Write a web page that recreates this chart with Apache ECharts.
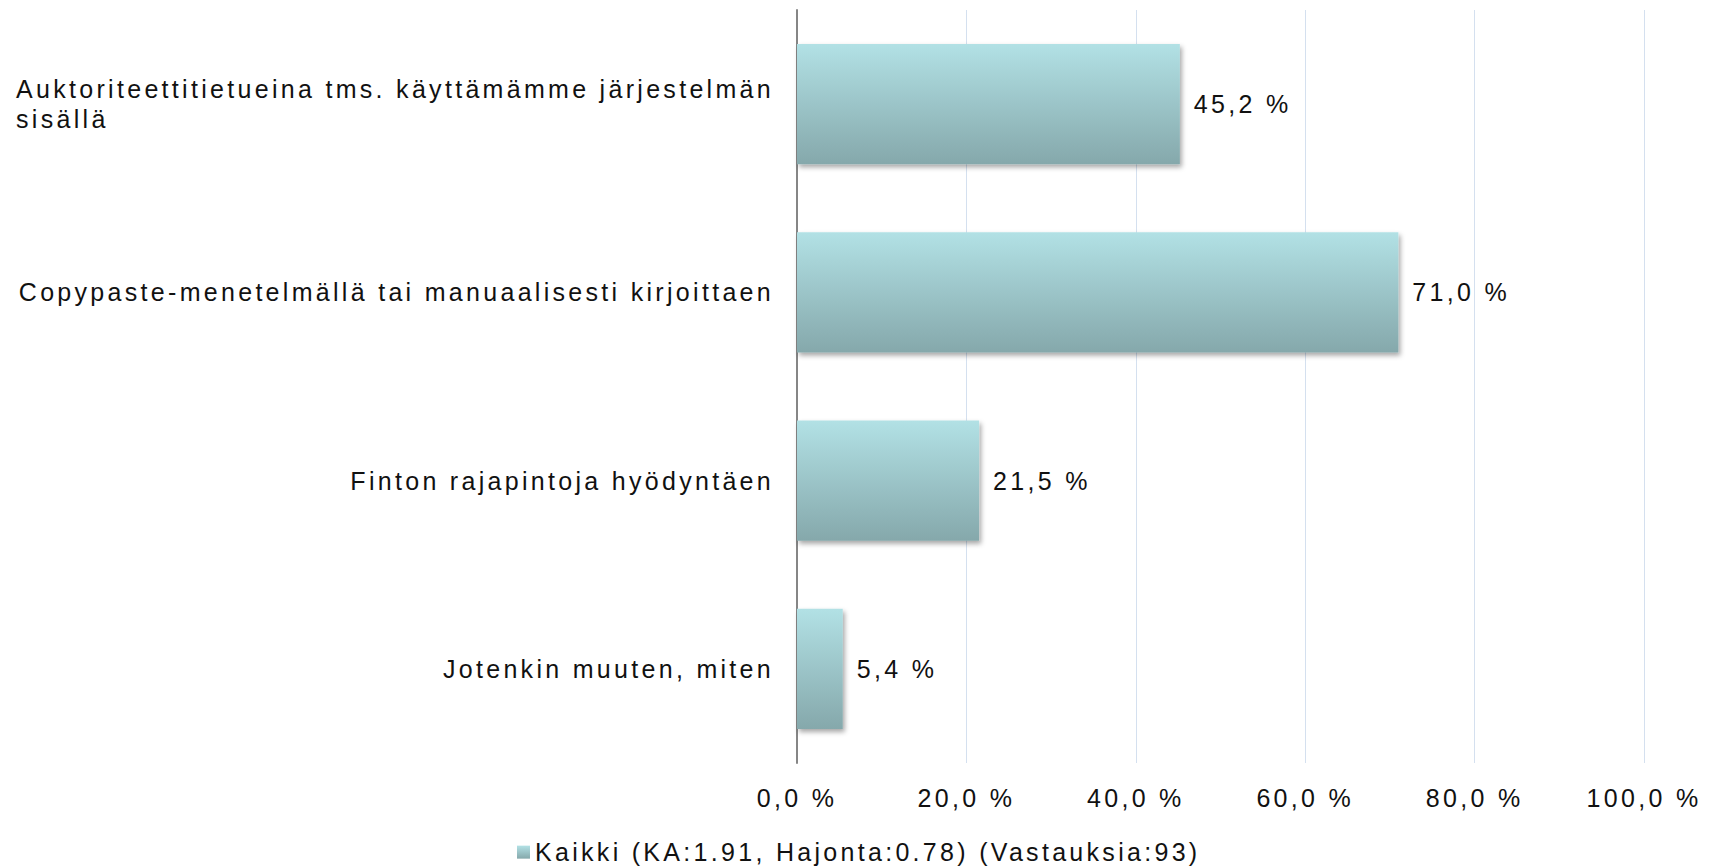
<!DOCTYPE html>
<html>
<head>
<meta charset="utf-8">
<script src="https://cdn.jsdelivr.net/npm/echarts@6/dist/echarts.min.js"></script>
<style>
html,body{margin:0;padding:0;background:#fff;}
#chart{width:1715px;height:866px;}
#chart text{letter-spacing:3.3px;}
</style>
</head>
<body>
<div id="chart"></div>
<script>
var categories = [
	'Auktoriteettitietueina tms. käyttämämme järjestelmän sisällä',
	'Copypaste-menetelmällä tai manuaalisesti kirjoittaen',
	'Finton rajapintoja hyödyntäen',
	'Jotenkin muuten, miten'
];
var values = [45.2, 71.0, 21.5, 5.4];
var xTicks = [0, 20, 40, 60, 80, 100];
var seriesName = 'Kaikki (KA:1.91, Hajonta:0.78) (Vastauksia:93)';

// the original text is widely spaced; make echarts measure it the same way
var SPACING = 3.3;
var measureCtx = document.createElement('canvas').getContext('2d');
echarts.setPlatformAPI({
	measureText: function(text, font){
		measureCtx.font = font || '12px sans-serif';
		var m = measureCtx.measureText(text);
		return {
			width: m.width + SPACING * Array.from(text).length,
			actualBoundingBoxAscent: m.actualBoundingBoxAscent,
			actualBoundingBoxDescent: m.actualBoundingBoxDescent
		};
	}
});

function pct(v){
	return v.toFixed(1).replace('.', ',') + ' %';
}

var font = 'Liberation Sans';
var chart = echarts.init(document.getElementById('chart'), null, {renderer: 'svg'});

var barColor = new echarts.graphic.LinearGradient(0, 0, 0, 1, [
	{offset: 0, color: '#b2e1e5'},
	{offset: 1, color: '#85a8ab'}
]);

var option = {
	animation: false,
	backgroundColor: '#fff',
	grid: {
		left: 797,
		right: 71,
		top: 10,
		bottom: 103
	},
	legend: {
		data: [seriesName],
		left: 512,
		top: 833,
		icon: 'rect',
		itemWidth: 13,
		itemHeight: 13,
		itemGap: 10,
		textStyle: {fontFamily: font, fontSize: 25, color: '#111'}
	},
	xAxis: {
		type: 'value',
		min: xTicks[0],
		max: xTicks[xTicks.length - 1],
		interval: xTicks[1] - xTicks[0],
		axisLine: {show: false},
		axisTick: {show: false},
		splitLine: {lineStyle: {color: '#d4e0ef', width: 1}},
		axisLabel: {
			margin: 21,
			fontFamily: font,
			fontSize: 25,
			color: '#111',
			formatter: function(v){ return pct(v); }
		}
	},
	yAxis: {
		type: 'category',
		inverse: true,
		data: categories,
		axisLine: {show: true, lineStyle: {color: '#868686', width: 2}},
		axisTick: {show: false},
		axisLabel: {
			margin: 23,
			fontFamily: font,
			fontSize: 25,
			color: '#111',
			formatter: function(v){
				var lines = [v];
				if (v.length > 55) {
					var i = v.lastIndexOf(' ');
					lines = [v.slice(0, i), v.slice(i + 1)];
				}
				return lines.map(function(l){ return '{a|' + l + '}'; }).join('\n');
			},
			rich: {
				a: {fontFamily: font, fontSize: 25, color: '#111', lineHeight: 30, align: 'left'}
			}
		}
	},
	series: [{
		name: seriesName,
		type: 'bar',
		data: values,
		barWidth: '64%',
		itemStyle: {
			color: barColor,
			shadowColor: 'rgba(0,0,0,0.35)',
			shadowBlur: 5,
			shadowOffsetX: 2,
			shadowOffsetY: 3
		},
		label: {
			show: true,
			position: 'right',
			distance: 14,
			fontFamily: font,
			fontSize: 25,
			color: '#111',
			formatter: function(p){ return pct(p.value); }
		}
	}]
};

chart.setOption(option);
</script>
</body>
</html>
